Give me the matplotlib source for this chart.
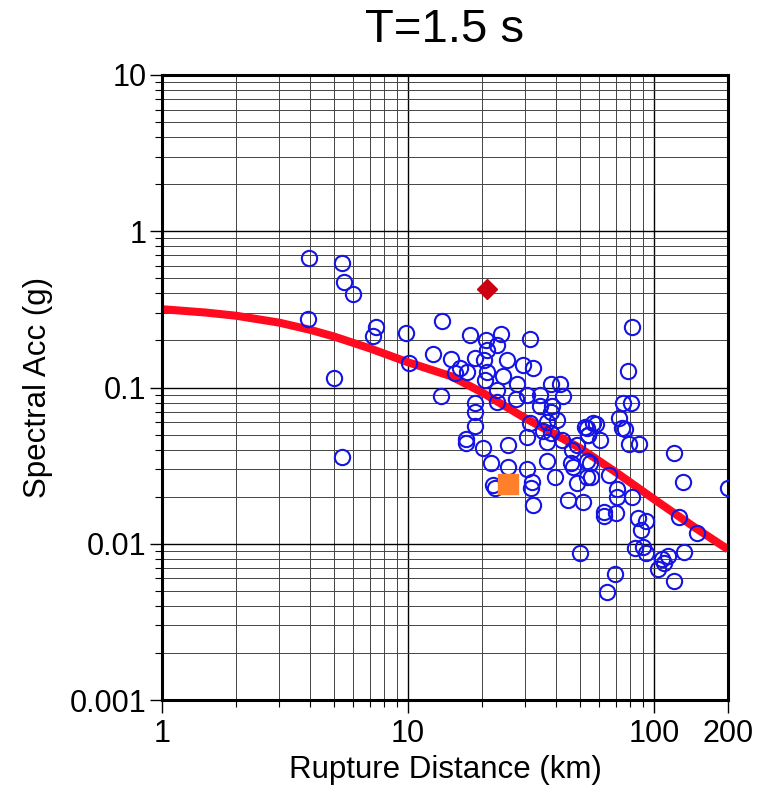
import numpy as np
import matplotlib.pyplot as plt
from matplotlib.ticker import FixedLocator, NullFormatter

# recorded motions: rupture distance (km) and spectral acceleration (g)
rrup = [3.96, 5.39, 5.5, 5.98, 3.92, 7.41, 7.2, 9.8, 13.7, 17.9, 12.6, 10.1, 5.0,
        13.6, 15.0, 16.3, 15.5, 17.4, 18.7, 18.7, 18.7, 17.2, 5.39,
        23.9, 31.3, 20.7, 23.0, 20.9, 18.7, 20.4, 25.3, 29.3, 32.2, 20.9, 24.3,
        20.6, 27.7, 23.0, 38.1, 41.5, 30.5, 34.4, 42.7, 27.5, 23.0, 34.4, 38.5,
        38.0, 31.3, 36.6, 40.2, 35.4, 38.0, 52.4, 56.5, 53.7, 42.3, 30.5, 36.6,
        48.6, 46.6, 53.2, 46.2, 17.2, 20.2, 25.5, 21.7, 25.5, 30.5, 36.6, 39.6,
        22.2, 22.6, 31.9, 31.5, 32.2, 50.0, 44.7, 51.5, 48.6, 55.5, 47.0, 55.0,
        81.4, 78.4, 74.8, 80.5, 72.0, 74.0, 76.0, 79.0, 87.0, 120.6, 58.0, 53.5,
        54.0, 60.4, 131.0, 200.0, 126.0, 150.0, 132.0, 114.0, 108.0, 110.0, 104.0,
        120.6, 69.4, 64.4, 83.7, 90.0, 93.0, 86.0, 93.0, 88.5, 81.4, 70.5, 70.5,
        70.0, 62.6, 62.6, 65.4, 53.5]
sa = [0.67, 0.624, 0.47, 0.395, 0.273, 0.243, 0.213, 0.222, 0.265, 0.216, 0.163,
      0.143, 0.115, 0.088, 0.152, 0.133, 0.123, 0.125, 0.079, 0.07, 0.057, 0.047,
      0.036, 0.219, 0.204, 0.2, 0.186, 0.173, 0.154, 0.15, 0.15, 0.139, 0.133,
      0.125, 0.118, 0.111, 0.106, 0.097, 0.106, 0.106, 0.089, 0.089, 0.088, 0.084,
      0.081, 0.076, 0.076, 0.07, 0.059, 0.06, 0.062, 0.053, 0.051, 0.056, 0.059,
      0.05, 0.046, 0.048, 0.045, 0.043, 0.04, 0.034, 0.033, 0.044, 0.041, 0.043,
      0.033, 0.031, 0.03, 0.034, 0.0267, 0.0237, 0.0226, 0.0247, 0.0226, 0.0176,
      0.0087, 0.019, 0.0184, 0.0244, 0.0266, 0.031, 0.033, 0.243, 0.127, 0.08,
      0.08, 0.064, 0.055, 0.054, 0.0433, 0.0433, 0.038, 0.058, 0.055, 0.05, 0.046,
      0.0248, 0.0227, 0.0148, 0.0117, 0.0088, 0.0084, 0.008, 0.0075, 0.0069,
      0.0058, 0.0064, 0.0049, 0.0094, 0.0096, 0.0087, 0.0146, 0.0139, 0.0122,
      0.0199, 0.0223, 0.02, 0.0157, 0.016, 0.0151, 0.0274, 0.0266]

# median prediction curve
model_r = [1, 1.5, 2, 3, 4, 5, 7, 10, 15, 20, 30, 50, 70, 100, 150, 200]
model_sa = [0.317, 0.302, 0.288, 0.26, 0.234, 0.212, 0.178, 0.145, 0.118, 0.093,
            0.0636, 0.041, 0.0287, 0.0193, 0.0124, 0.0092]

# highlighted stations
diamond_r, diamond_sa = [20.9], [0.43]
square_r, square_sa = [25.5], [0.024]

plt.rcParams['font.family'] = ['Liberation Sans', 'DejaVu Sans']

fig = plt.figure(figsize=(7.61, 7.90), dpi=100)
ax = fig.add_axes([162/761, 1 - 700/790, 566/761, 625/790])

ax.plot(model_r, model_sa, color='#ff0a1e', lw=5.8, zorder=2, solid_capstyle='butt')
ax.plot(rrup, sa, 'o', ms=11, mfc='none', mec='#1414e6', mew=1.5, zorder=3)
ax.plot(diamond_r, diamond_sa, 'D', ms=10, color='#cc0011', zorder=4)
ax.plot(square_r, square_sa, 's', ms=14.5, color='#ff7f2a', zorder=4)

ax.set_xscale('log')
ax.set_yscale('log')
ax.set_xlim(1, 200)
ax.set_ylim(0.001, 10)

xmajor = [1, 10, 100, 200]
ax.xaxis.set_major_locator(FixedLocator(xmajor))
ax.set_xticklabels(['1', '10', '100', '200'])
xminor = [m * d for d in (1, 10) for m in range(2, 10)]
ax.xaxis.set_minor_locator(FixedLocator(xminor))
ax.xaxis.set_minor_formatter(NullFormatter())

yticks = [0.001, 0.01, 0.1, 1, 10]
ax.yaxis.set_major_locator(FixedLocator(yticks))
ax.set_yticklabels(['0.001', '0.01', '0.1', '1', '10'])
yminor = [m * d for d in (0.001, 0.01, 0.1, 1) for m in range(2, 10)]
ax.yaxis.set_minor_locator(FixedLocator(yminor))
ax.yaxis.set_minor_formatter(NullFormatter())

ax.grid(True, which='major', color='black', lw=1.0, zorder=0)
ax.grid(True, which='minor', color='#444444', lw=0.7, zorder=0)
ax.set_axisbelow(True)

ax.tick_params(axis='y', which='major', pad=2)
ax.tick_params(axis='x', which='major', pad=5)
ax.tick_params(which='major', direction='out', length=9, width=1.0, labelsize=22)
ax.tick_params(which='minor', direction='out', length=5, width=0.8)
for side in ax.spines.values():
    side.set_linewidth(2.2)

ax.set_xlabel('Rupture Distance (km)', fontsize=22.5, labelpad=4)
ax.set_ylabel('Spectral Acc (g)', fontsize=22.5, labelpad=12)
ax.set_title('T=1.5 s', fontsize=34, pad=24)

fig.savefig('out.png', dpi=100)
